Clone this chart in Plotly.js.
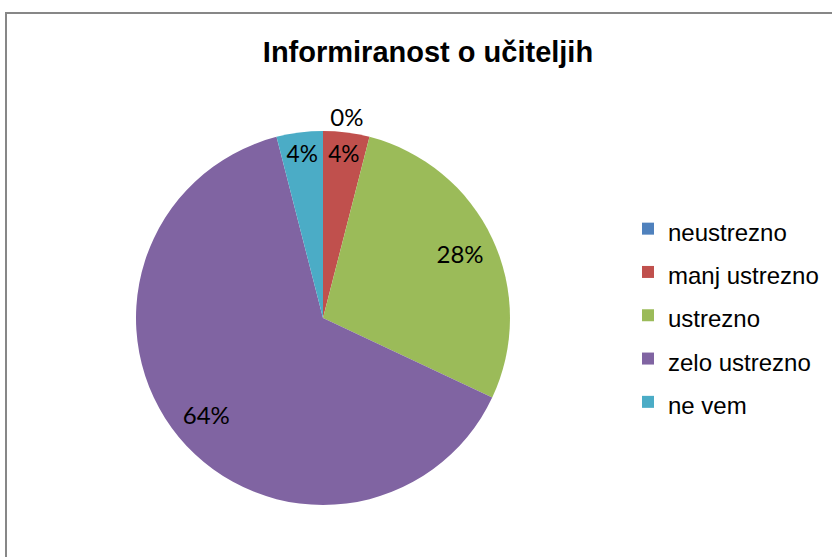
<!DOCTYPE html>
<html>
<head>
<meta charset="utf-8">
<script src="https://cdn.plot.ly/plotly-3.0.1.min.js"></script>
<style>html,body{margin:0;padding:0;background:#fff;}#chart{width:832px;height:557px;}</style>
</head>
<body>
<div id="chart"></div>
<script>
// Data
const chartTitle = 'Informiranost o učiteljih';
const categories = ['neustrezno', 'manj ustrezno', 'ustrezno', 'zelo ustrezno', 'ne vem'];
const counts = [0, 1, 7, 16, 1];
const colors = ['#4F81BD', '#C0504D', '#9BBB59', '#8064A2', '#4BACC6'];
const labelPositions = ['outside', 'inside', 'inside', 'inside', 'inside'];

const W = 832, H = 557;
const cx = 323, cy = 318, r = 187;
const domain = {x: [(cx - r) / W, (cx + r) / W], y: [(H - cy - r) / H, (H - cy + r) / H]};

// Slices (with legend)
const pieTrace = {
  type: 'pie',
  labels: categories.map(c => '<span style="font-size:24px">' + c + '</span>'),
  values: counts,
  sort: false,
  direction: 'clockwise',
  rotation: 0,
  marker: {colors: colors, line: {width: 0}},
  textinfo: 'none',
  hoverinfo: 'skip',
  domain: domain,
  showlegend: true
};

// Transparent ring carrying the percentage labels (places them near the rim)
const labelTrace = {
  type: 'pie',
  labels: categories.map(c => c + ' '),
  values: counts,
  sort: false,
  direction: 'clockwise',
  rotation: 0,
  hole: 0.62,
  marker: {colors: colors.map(() => 'rgba(0,0,0,0)'), line: {width: 0}},
  texttemplate: '%{percent:.0%}',
  textposition: labelPositions,
  textfont: {family: 'Lato, Arial, sans-serif', size: 24, color: '#000'},
  insidetextorientation: 'horizontal',
  hoverinfo: 'skip',
  domain: domain,
  showlegend: false
};

const layout = {
  width: W, height: H,
  margin: {l: 0, r: 0, t: 0, b: 0},
  paper_bgcolor: '#fff',
  title: {
    text: '<b>' + chartTitle + '</b>',
    font: {family: 'Liberation Sans, Arial, sans-serif', size: 29, color: '#000'},
    x: 428 / W, xanchor: 'center', xref: 'container',
    y: 1 - 52 / H, yanchor: 'middle', yref: 'container'
  },
  legend: {
    x: 628 / W, xanchor: 'left',
    y: 1 - 202 / H, yanchor: 'top',
    font: {family: 'Liberation Sans, Arial, sans-serif', size: 31, color: '#000'},
    bgcolor: 'rgba(0,0,0,0)',
    traceorder: 'normal'
  },
  shapes: [{
    type: 'rect', xref: 'paper', yref: 'paper',
    x0: 6 / W, x1: 1.2, y0: -0.2, y1: 1 - 13 / H,
    line: {color: '#878787', width: 2}, fillcolor: 'rgba(0,0,0,0)'
  }]
};

Plotly.newPlot('chart', [pieTrace, labelTrace], layout, {displayModeBar: false, staticPlot: true});
</script>
</body>
</html>
